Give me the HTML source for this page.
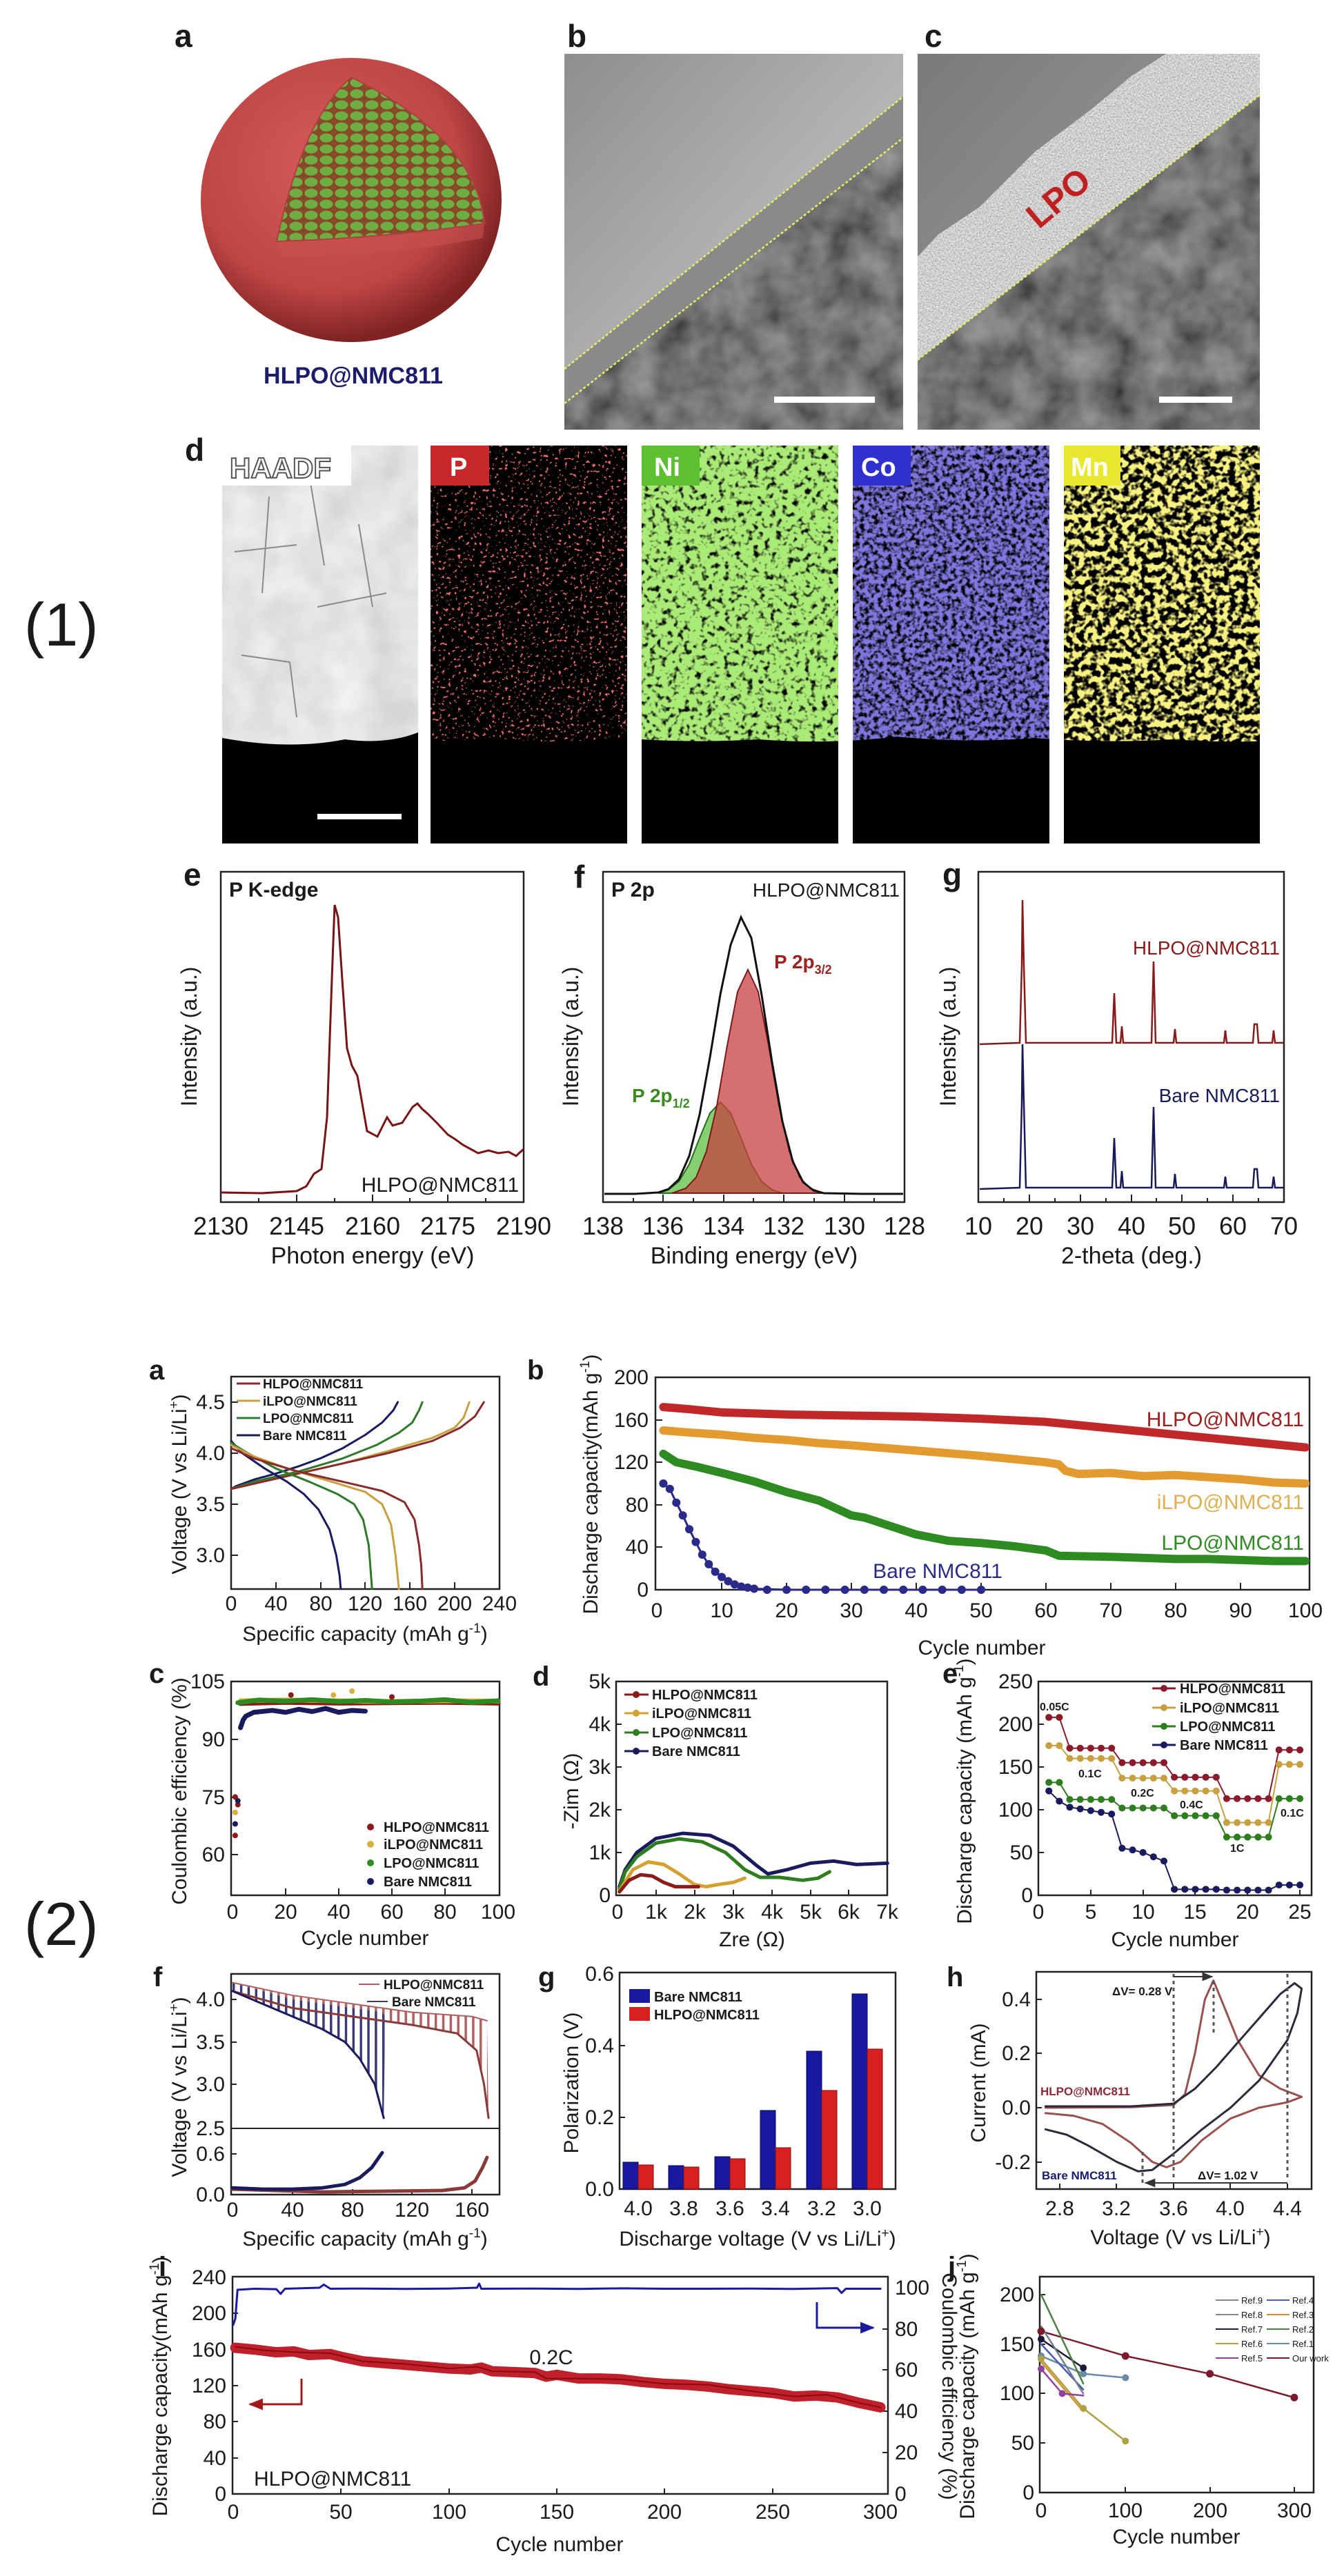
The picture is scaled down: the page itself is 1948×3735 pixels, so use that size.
<!DOCTYPE html>
<html><head><meta charset="utf-8">
<style>
html,body{margin:0;padding:0;background:#fff}
svg{display:block}
text{font-family:"Liberation Sans",Arial,sans-serif;fill:#1a1a1a}
.b{font-weight:bold}
.ns{vector-effect:non-scaling-stroke;fill:none;stroke-linejoin:round;stroke-linecap:round}
.fr{fill:none;stroke:#222;stroke-width:2.5}
.tk{stroke:#222;stroke-width:2;fill:none}
</style></head>
<body>
<svg width="1948" height="3735" viewBox="0 0 1948 3735" xmlns="http://www.w3.org/2000/svg">
<defs>
<radialGradient id="sph" cx="0.42" cy="0.38" r="0.62">
<stop offset="0" stop-color="#d65a5a"/><stop offset="0.7" stop-color="#c04646"/><stop offset="1" stop-color="#7e2222"/></radialGradient>
<pattern id="cells" width="22" height="16" patternUnits="userSpaceOnUse">
<rect width="22" height="16" fill="#8a4a2a"/><ellipse cx="11" cy="8" rx="9.5" ry="6.5" fill="#6fae45"/></pattern>
<linearGradient id="tb" x1="0" y1="0" x2="1" y2="1"><stop offset="0" stop-color="#8e8e8e"/><stop offset="1" stop-color="#d4d4d4"/></linearGradient>
<linearGradient id="tc" x1="0" y1="0" x2="1" y2="1"><stop offset="0" stop-color="#7a7a7a"/><stop offset="1" stop-color="#a8a8a8"/></linearGradient>
<filter id="dark" x="0" y="0" width="1" height="1"><feTurbulence type="fractalNoise" baseFrequency="0.02" numOctaves="3" seed="4"/><feColorMatrix type="matrix" values="0.35 0 0 0 0.0  0.35 0 0 0 0.0  0.35 0 0 0 0.0  0 0 0 0 1"/></filter>
<filter id="grain" x="0" y="0" width="1" height="1"><feTurbulence type="fractalNoise" baseFrequency="0.45" numOctaves="2" seed="7"/><feColorMatrix type="matrix" values="0.8 0 0 0 0.22  0.8 0 0 0 0.22  0.8 0 0 0 0.22  0 0 0 0 1"/></filter>
<filter id="haadf" x="0" y="0" width="1" height="1"><feTurbulence type="fractalNoise" baseFrequency="0.015" numOctaves="3" seed="9"/><feColorMatrix type="matrix" values="0.35 0 0 0 0.6  0.35 0 0 0 0.6  0.35 0 0 0 0.6  0 0 0 0 1"/></filter>
<filter id="fP" x="0" y="0" width="1" height="1"><feTurbulence type="fractalNoise" baseFrequency="0.22" numOctaves="2" seed="2"/><feColorMatrix type="matrix" values="0 0 0 0 0.9  0 0 0 0 0.15  0 0 0 0 0.15  10 0 0 0 -6.3"/></filter>
<filter id="fNi" x="0" y="0" width="1" height="1"><feTurbulence type="fractalNoise" baseFrequency="0.12" numOctaves="2" seed="5"/><feColorMatrix type="matrix" values="0 0 0 0 0.4  0 0 0 0 0.82  0 0 0 0 0.18  4 0 0 0 -0.9"/></filter>
<filter id="fCo" x="0" y="0" width="1" height="1"><feTurbulence type="fractalNoise" baseFrequency="0.15" numOctaves="2" seed="8"/><feColorMatrix type="matrix" values="0 0 0 0 0.22  0 0 0 0 0.18  0 0 0 0 0.72  3.5 0 0 0 -1.0"/></filter>
<filter id="fMn" x="0" y="0" width="1" height="1"><feTurbulence type="fractalNoise" baseFrequency="0.11" numOctaves="2" seed="11"/><feColorMatrix type="matrix" values="0 0 0 0 0.92  0 0 0 0 0.88  0 0 0 0 0.22  6 0 0 0 -2.5"/></filter>
<pattern id="hatchB" width="5" height="10" patternUnits="userSpaceOnUse"><rect width="5" height="10" fill="#fff"/><rect width="1.6" height="10" fill="#3a3a7a"/></pattern>
<pattern id="hatchR" width="5" height="10" patternUnits="userSpaceOnUse"><rect width="5" height="10" fill="#fff"/><rect width="1.6" height="10" fill="#b06060"/></pattern>
<marker id="ar" viewBox="0 0 10 10" refX="9" refY="5" markerWidth="8" markerHeight="8" orient="auto"><path d="M0 1L10 5L0 9z" fill="#333"/></marker>
<marker id="arR" viewBox="0 0 10 10" refX="9" refY="5" markerWidth="7" markerHeight="7" orient="auto"><path d="M0 1L10 5L0 9z" fill="#a01818"/></marker>
<marker id="arB" viewBox="0 0 10 10" refX="9" refY="5" markerWidth="7" markerHeight="7" orient="auto"><path d="M0 1L10 5L0 9z" fill="#1a1aa0"/></marker>
<clipPath id="cbd"><polygon points="818,585 1309,200 1309,623 818,623"/></clipPath>
<clipPath id="ccb"><polygon points="1330,372 1360,340 1420,300 1500,220 1580,160 1640,110 1690,78 1826,78 1826,138 1330,522"/></clipPath>
<clipPath id="ccd"><polygon points="1330,522 1826,138 1826,623 1330,623"/></clipPath>
<clipPath id="ch"><path d="M322 646H606V1062Q560 1080 500 1072Q420 1088 322 1070Z"/></clipPath>
<clipPath id="cm"><path d="M0 646H1948V1068Q1800 1080 1700 1072Q1600 1078 1500 1070Q1400 1078 1300 1068Q1200 1080 1100 1072Q1000 1078 900 1070Q800 1080 700 1070Q650 1078 600 1070V646Z"/></clipPath>
</defs>

<!-- ================= SECTION (1) ================= -->
<text x="35" y="936" font-size="88">(1)</text>
<text x="253" y="68" font-size="46" class="b">a</text>
<text x="822" y="68" font-size="46" class="b">b</text>
<text x="1340" y="68" font-size="46" class="b">c</text>

<ellipse cx="509" cy="290" rx="218" ry="206" fill="url(#sph)"/>
<path d="M401 350 Q560 345 702 324 L700 345 Q560 372 410 372Z" fill="#c85050" opacity="0.6"/>
<path d="M509 112 Q440 170 401 350 Q560 345 702 324 Q690 200 509 112Z" fill="url(#cells)" stroke="#b04040" stroke-width="2"/>
<text x="512" y="556" font-size="34" class="b" text-anchor="middle" style="fill:#1c1c6e">HLPO@NMC811</text>

<!-- TEM b -->
<rect x="818" y="78" width="491" height="545" fill="url(#tb)"/>
<polygon points="818,535 1309,140 1309,623 818,623" fill="#8a8a8a"/>
<rect x="818" y="78" width="491" height="545" filter="url(#dark)" clip-path="url(#cbd)"/>
<line x1="818" y1="535" x2="1309" y2="140" stroke="#e8f060" stroke-width="2.5" stroke-dasharray="4 3"/>
<line x1="818" y1="585" x2="1309" y2="200" stroke="#e8f060" stroke-width="2.5" stroke-dasharray="4 3"/>
<rect x="1122" y="575" width="146" height="9" fill="#fff"/>

<!-- TEM c -->
<rect x="1330" y="78" width="496" height="545" fill="url(#tc)"/>
<rect x="1330" y="78" width="496" height="545" filter="url(#grain)" clip-path="url(#ccb)"/>
<rect x="1330" y="78" width="496" height="545" filter="url(#dark)" clip-path="url(#ccd)"/>
<line x1="1330" y1="522" x2="1826" y2="138" stroke="#e8f060" stroke-width="2.5" stroke-dasharray="4 3"/>
<text x="1545" y="300" font-size="50" class="b" transform="rotate(-40 1545 300)" text-anchor="middle" style="fill:#c02020">LPO</text>
<rect x="1680" y="575" width="106" height="9" fill="#fff"/>

<!-- d maps -->
<text x="268" y="668" font-size="46" class="b">d</text>
<rect x="322" y="646" width="284" height="577" fill="#000"/>
<rect x="322" y="646" width="284" height="577" filter="url(#haadf)" clip-path="url(#ch)"/>
<path d="M390 720 L380 860 M450 700 L470 820 M520 760 L540 880 M340 800 L430 790 M460 880 L560 860 M420 960 L430 1040 M350 950 L420 960" stroke="#8a8a8a" stroke-width="2" fill="none"/>
<rect x="322" y="646" width="187" height="58" fill="#fff"/>
<text x="333" y="693" font-size="42" class="b" style="fill:#fff;stroke:#555;stroke-width:2">HAADF</text>
<rect x="460" y="1180" width="122" height="8" fill="#fff"/>

<rect x="624" y="646" width="285" height="577" fill="#000"/>
<rect x="624" y="646" width="285" height="577" filter="url(#fP)" clip-path="url(#cm)"/>
<rect x="624" y="646" width="85" height="58" fill="#c8282a"/>
<text x="652" y="690" font-size="38" class="b" style="fill:#fff">P</text>

<rect x="930" y="646" width="285" height="577" fill="#000"/>
<rect x="930" y="646" width="285" height="577" filter="url(#fNi)" clip-path="url(#cm)"/>
<rect x="930" y="646" width="84" height="58" fill="#5cc030"/>
<text x="948" y="690" font-size="38" class="b" style="fill:#fff">Ni</text>

<rect x="1236" y="646" width="285" height="577" fill="#000"/>
<rect x="1236" y="646" width="285" height="577" filter="url(#fCo)" clip-path="url(#cm)"/>
<rect x="1236" y="646" width="84" height="58" fill="#3030d0"/>
<text x="1248" y="690" font-size="38" class="b" style="fill:#fff">Co</text>

<rect x="1542" y="646" width="284" height="577" fill="#000"/>
<rect x="1542" y="646" width="284" height="577" filter="url(#fMn)" clip-path="url(#cm)"/>
<rect x="1542" y="646" width="82" height="58" fill="#e8e830"/>
<text x="1552" y="690" font-size="38" class="b" style="fill:#fff">Mn</text>

<!-- e -->
<text x="266" y="1284" font-size="46" class="b">e</text>
<rect class="fr" x="320" y="1264" width="439" height="479"/>
<path class="tk" d="M375 1743v-6M430 1743v-11M485 1743v-6M540 1743v-11M594 1743v-6M649 1743v-11M704 1743v-6"/>
<polyline fill="none" stroke="#7a1414" stroke-width="3" points="320,1729 380,1730 430,1727 444,1720 455,1702 466,1695 474,1620 481,1420 485,1312 490,1330 496,1420 503,1520 510,1545 518,1560 525,1600 532,1640 547,1648 554,1634 561,1620 569,1632 583,1628 598,1605 605,1600 612,1608 620,1615 635,1630 649,1645 660,1652 671,1660 693,1672 708,1668 722,1672 737,1670 748,1676 759,1666"/>
<text x="332" y="1300" font-size="30" class="b">P K-edge</text>
<text x="752" y="1728" font-size="30" text-anchor="end">HLPO@NMC811</text>
<g font-size="36" text-anchor="middle"><text x="320" y="1790">2130</text><text x="430" y="1790">2145</text><text x="540" y="1790">2160</text><text x="649" y="1790">2175</text><text x="759" y="1790">2190</text></g>
<text x="540" y="1832" font-size="34" text-anchor="middle">Photon energy (eV)</text>
<text transform="translate(285 1503) rotate(-90)" font-size="32" text-anchor="middle">Intensity (a.u.)</text>

<!-- f -->
<text x="832" y="1287" font-size="46" class="b">f</text>
<rect class="fr" x="874" y="1264" width="437" height="479"/>
<path class="tk" d="M918 1743v-6M961 1743v-11M1005 1743v-6M1049 1743v-11M1092 1743v-6M1136 1743v-11M1180 1743v-6M1224 1743v-11M1267 1743v-6"/>
<polygon fill="#5cc040" fill-opacity="0.75" stroke="#2a6a20" stroke-width="2" points="954,1730 969,1725 984,1713 999,1688 1014,1650 1029,1614 1044,1598 1059,1614 1074,1650 1089,1688 1104,1713 1119,1725 1134,1730"/>
<polygon fill="#c84040" fill-opacity="0.75" stroke="#7a1a1a" stroke-width="2" points="974,1730 994,1723 1009,1707 1024,1669 1039,1603 1054,1516 1069,1438 1084,1406 1099,1438 1114,1516 1129,1603 1144,1669 1159,1707 1174,1723 1194,1730"/>
<polyline fill="none" stroke="#111" stroke-width="3" points="876,1731 920,1731 954,1729 969,1724 984,1710 999,1676 1014,1616 1029,1533 1044,1442 1059,1370 1074,1330 1089,1360 1104,1443 1119,1540 1134,1626 1149,1684 1164,1714 1179,1726 1194,1730 1250,1731 1309,1731"/>
<text x="886" y="1300" font-size="30" class="b">P 2p</text>
<text x="1304" y="1300" font-size="28" text-anchor="end">HLPO@NMC811</text>
<text x="1122" y="1404" font-size="28" class="b" style="fill:#a02020">P 2p<tspan font-size="18" dy="8">3/2</tspan></text>
<text x="916" y="1598" font-size="28" class="b" style="fill:#3a8a20">P 2p<tspan font-size="18" dy="8">1/2</tspan></text>
<g font-size="36" text-anchor="middle"><text x="874" y="1790">138</text><text x="961" y="1790">136</text><text x="1049" y="1790">134</text><text x="1136" y="1790">132</text><text x="1224" y="1790">130</text><text x="1311" y="1790">128</text></g>
<text x="1093" y="1832" font-size="34" text-anchor="middle">Binding energy (eV)</text>
<text transform="translate(838 1503) rotate(-90)" font-size="32" text-anchor="middle">Intensity (a.u.)</text>

<!-- g -->
<text x="1366" y="1284" font-size="46" class="b">g</text>
<rect class="fr" x="1418" y="1264" width="443" height="479"/>
<path class="tk" d="M1455 1743v-6M1492 1743v-11M1529 1743v-6M1566 1743v-11M1603 1743v-6M1640 1743v-11M1676 1743v-6M1713 1743v-11M1750 1743v-6M1787 1743v-11M1824 1743v-6"/>
<polyline fill="none" stroke="#8a1a1a" stroke-width="2.5" points="1420,1514 1478,1512 1481,1400 1482,1305 1484,1400 1487,1512 1612,1512 1615,1440 1618,1512 1624,1512 1626,1488 1628,1512 1669,1512 1672,1394 1675,1512 1701,1512 1703,1492 1705,1512 1774,1512 1776,1494 1778,1512 1816,1512 1818,1485 1822,1485 1824,1512 1844,1512 1846,1494 1848,1512 1860,1512"/>
<polyline fill="none" stroke="#1a1a5a" stroke-width="2.5" points="1420,1724 1478,1722 1481,1600 1482,1514 1484,1600 1487,1722 1612,1722 1615,1650 1618,1722 1624,1722 1626,1698 1628,1722 1669,1722 1672,1605 1675,1722 1701,1722 1703,1702 1705,1722 1774,1722 1776,1706 1778,1722 1816,1722 1818,1695 1822,1695 1824,1722 1844,1722 1846,1706 1848,1722 1860,1722"/>
<text x="1855" y="1384" font-size="28" text-anchor="end" style="fill:#8a1a1a">HLPO@NMC811</text>
<text x="1855" y="1598" font-size="28" text-anchor="end" style="fill:#1a1a5a">Bare NMC811</text>
<g font-size="36" text-anchor="middle"><text x="1418" y="1790">10</text><text x="1492" y="1790">20</text><text x="1566" y="1790">30</text><text x="1640" y="1790">40</text><text x="1713" y="1790">50</text><text x="1787" y="1790">60</text><text x="1861" y="1790">70</text></g>
<text x="1640" y="1832" font-size="34" text-anchor="middle">2-theta (deg.)</text>
<text transform="translate(1385 1503) rotate(-90)" font-size="32" text-anchor="middle">Intensity (a.u.)</text>

<!-- ================= SECTION (2) ================= -->
<text x="35" y="2820" font-size="88">(2)</text>

<!-- (2)a -->
<text x="216" y="2000" font-size="40" class="b">a</text>
<rect class="fr" x="335" y="1996" width="389" height="308"/>
<path class="tk" d="M335 2033h10M335 2107h10M335 2181h10M335 2255h10M400 2304v-10M465 2304v-10M529 2304v-10M594 2304v-10M659 2304v-10"/>
<g transform="matrix(1.621 0 0 -148 335 2699)" stroke-width="3">
<polyline class="ns" stroke="#1a1a5e" points="0,3.65 5,3.68 20,3.74 40,3.8 60,3.87 80,3.95 100,4.05 120,4.18 135,4.3 145,4.42 149,4.5"/>
<polyline class="ns" stroke="#2f7a2a" points="0,3.65 20,3.72 60,3.82 100,3.95 130,4.08 150,4.2 162,4.3 168,4.42 171,4.5"/>
<polyline class="ns" stroke="#c8a040" points="0,3.65 20,3.7 60,3.8 100,3.9 140,4.02 180,4.15 200,4.25 208,4.35 213,4.5"/>
<polyline class="ns" stroke="#8b2a2a" points="0,3.65 20,3.7 60,3.8 100,3.9 140,4.0 180,4.12 205,4.25 218,4.36 226,4.5"/>
<polyline class="ns" stroke="#1a1a5e" points="0,4.12 10,4.0 30,3.85 50,3.72 65,3.6 78,3.45 88,3.25 94,3.0 97,2.8 98,2.67"/>
<polyline class="ns" stroke="#2f7a2a" points="0,4.1 15,4.0 40,3.85 70,3.72 95,3.6 110,3.5 118,3.35 123,3.1 126,2.67"/>
<polyline class="ns" stroke="#c8a040" points="0,4.08 20,3.97 50,3.85 90,3.72 120,3.62 135,3.5 143,3.3 147,3.0 150,2.67"/>
<polyline class="ns" stroke="#8b2a2a" points="0,4.05 20,3.95 60,3.82 100,3.72 135,3.63 155,3.52 164,3.35 168,3.1 170,2.9 171,2.67"/>
</g>
<g font-size="19" class="b">
<line x1="343" y1="2006" x2="377" y2="2006" stroke="#8b2a2a" stroke-width="3"/><text x="381" y="2013">HLPO@NMC811</text>
<line x1="343" y1="2031" x2="377" y2="2031" stroke="#c8a040" stroke-width="3"/><text x="381" y="2038">iLPO@NMC811</text>
<line x1="343" y1="2056" x2="377" y2="2056" stroke="#2f7a2a" stroke-width="3"/><text x="381" y="2063">LPO@NMC811</text>
<line x1="343" y1="2081" x2="377" y2="2081" stroke="#1a1a5e" stroke-width="3"/><text x="381" y="2088">Bare NMC811</text>
</g>
<g font-size="30" text-anchor="end"><text x="326" y="2043">4.5</text><text x="326" y="2117">4.0</text><text x="326" y="2191">3.5</text><text x="326" y="2265">3.0</text></g>
<g font-size="30" text-anchor="middle"><text x="335" y="2335">0</text><text x="400" y="2335">40</text><text x="465" y="2335">80</text><text x="529" y="2335">120</text><text x="594" y="2335">160</text><text x="659" y="2335">200</text><text x="724" y="2335">240</text></g>
<text x="529" y="2379" font-size="30" text-anchor="middle">Specific capacity (mAh g<tspan font-size="19" dy="-12">-1</tspan><tspan dy="12">)</tspan></text>
<text transform="translate(270 2152) rotate(-90)" font-size="30" text-anchor="middle">Voltage (V vs Li/Li<tspan font-size="19" dy="-12">+</tspan><tspan dy="12">)</tspan></text>

<!-- (2)b -->
<text x="764" y="2000" font-size="40" class="b">b</text>
<rect class="fr" x="950" y="1997" width="948" height="308"/>
<path class="tk" d="M950 2243h10M950 2182h10M950 2120h10M950 2059h10M1046 2305v-10M1140 2305v-10M1234 2305v-10M1328 2305v-10M1422 2305v-10M1516 2305v-10M1610 2305v-10M1704 2305v-10M1798 2305v-10"/>
<g transform="matrix(9.40 0 0 -1.54 952 2305)">
<polyline class="ns" stroke="#c0282a" stroke-width="12" points="1,172 5,170 10,167 20,165 30,164 40,163 50,161 60,158 70,152 80,146 90,140 100,134"/>
<polyline class="ns" stroke="#e39a2e" stroke-width="12" points="1,150 5,148 10,146 15,143 20,141 25,138 30,136 40,131 50,126 55,123 60,120 62,118 63,112 65,109 70,110 75,107 80,108 85,106 90,104 95,101 100,100"/>
<polyline class="ns" stroke="#2e8b22" stroke-width="12" points="1,128 3,120 6,116 10,110 15,102 20,92 25,84 30,70 32,68 35,62 40,52 45,46 50,44 55,41 60,37 62,32 70,31 80,29 85,29 90,28 95,27 100,27"/>
<polyline class="ns" stroke="#2a2a8a" stroke-width="3" points="1,100 2,95 3,82 4,70 5,57 6,45 7,33 8,24 9,17 10,12 11,8 12,5 13,3 15,1 20,0 50,0"/>
<path class="ns" stroke="#2a2a8a" stroke-width="12" d="M1 100h0.01M2 95h0.01M3 82h0.01M4 70h0.01M5 57h0.01M6 45h0.01M7 33h0.01M8 24h0.01M9 17h0.01M10 12h0.01M11 8h0.01M12 5h0.01M13 3h0.01M14 2h0.01M15 1h0.01M17 0h0.01M20 0h0.01M23 0h0.01M26 0h0.01M29 0h0.01M32 0h0.01M35 0h0.01M38 0h0.01M41 0h0.01M44 0h0.01M47 0h0.01M50 0h0.01"/>
</g>
<g font-size="30" text-anchor="end"><text x="940" y="2315">0</text><text x="940" y="2253">40</text><text x="940" y="2192">80</text><text x="940" y="2130">120</text><text x="940" y="2069">160</text><text x="940" y="2007">200</text></g>
<g font-size="30" text-anchor="middle"><text x="952" y="2345">0</text><text x="1046" y="2345">10</text><text x="1140" y="2345">20</text><text x="1234" y="2345">30</text><text x="1328" y="2345">40</text><text x="1422" y="2345">50</text><text x="1516" y="2345">60</text><text x="1610" y="2345">70</text><text x="1704" y="2345">80</text><text x="1798" y="2345">90</text><text x="1892" y="2345">100</text></g>
<text x="1423" y="2399" font-size="30" text-anchor="middle">Cycle number</text>
<text transform="translate(866 2152) rotate(-90)" font-size="30" text-anchor="middle">Discharge capacity(mAh g<tspan font-size="19" dy="-12">-1</tspan><tspan dy="12">)</tspan></text>
<text x="1890" y="2068" font-size="30" text-anchor="end" style="fill:#a02020">HLPO@NMC811</text>
<text x="1890" y="2188" font-size="30" text-anchor="end" style="fill:#e0b050">iLPO@NMC811</text>
<text x="1890" y="2247" font-size="30" text-anchor="end" style="fill:#2e8b22">LPO@NMC811</text>
<text x="1359" y="2288" font-size="30" text-anchor="middle" style="fill:#2a2a8a">Bare NMC811</text>

<!-- (2)c -->
<text x="216" y="2440" font-size="40" class="b">c</text>
<rect class="fr" x="335" y="2438" width="389" height="310"/>
<path class="tk" d="M335 2522h10M335 2606h10M335 2689h10M414 2748v-10M491 2748v-10M568 2748v-10M645 2748v-10"/>
<g transform="matrix(3.85 0 0 -5.58 337 3024)">
<polyline class="ns" stroke="#8b1a1a" stroke-width="7" points="3,99.3 20,99.6 40,99.4 60,99.5 80,99.6 100,99.4"/>
<polyline class="ns" stroke="#d8b040" stroke-width="7" points="3,100 20,100.2 40,100 60,99.8 80,100 100,99.9"/>
<polyline class="ns" stroke="#2e8b22" stroke-width="7" points="2,99.5 10,100.2 20,99.9 30,100.3 40,99.8 50,100.1 60,99.7 70,99.9 80,100.3 90,99.6 100,100"/>
<polyline class="ns" stroke="#1a1a5e" stroke-width="7" points="3,93 4,95 5,96 8,97 15,97.5 20,97 25,97.8 30,97.2 35,98 40,97 45,97.5 50,97.3"/>
<path class="ns" stroke="#8b1a1a" stroke-width="8" d="M1 75h0.01M2 73h0.01M1 65h0.01M22 101.5h0.01M60 101h0.01"/>
<path class="ns" stroke="#d8b040" stroke-width="8" d="M1 71h0.01M45 102.5h0.01M38 101.5h0.01"/>
<path class="ns" stroke="#1a1a5e" stroke-width="8" d="M2 74h0.01M1 68h0.01"/>
</g>
<g font-size="20" class="b">
<circle cx="537" cy="2649" r="5" fill="#8b1a1a"/><text x="556" y="2656">HLPO@NMC811</text>
<circle cx="537" cy="2674" r="5" fill="#d8b040"/><text x="556" y="2681">iLPO@NMC811</text>
<circle cx="537" cy="2701" r="5" fill="#2e8b22"/><text x="556" y="2708">LPO@NMC811</text>
<circle cx="537" cy="2728" r="5" fill="#1a1a5e"/><text x="556" y="2735">Bare NMC811</text>
</g>
<g font-size="30" text-anchor="end"><text x="326" y="2448">105</text><text x="326" y="2532">90</text><text x="326" y="2616">75</text><text x="326" y="2699">60</text></g>
<g font-size="30" text-anchor="middle"><text x="337" y="2782">0</text><text x="414" y="2782">20</text><text x="491" y="2782">40</text><text x="568" y="2782">60</text><text x="645" y="2782">80</text><text x="722" y="2782">100</text></g>
<text x="529" y="2820" font-size="30" text-anchor="middle">Cycle number</text>
<text transform="translate(270 2597) rotate(-90)" font-size="30" text-anchor="middle">Coulombic efficiency (%)</text>

<!-- (2)d -->
<text x="772" y="2444" font-size="40" class="b">d</text>
<rect class="fr" x="893" y="2438" width="393" height="310"/>
<path class="tk" d="M893 2686h8M893 2624h8M893 2562h8M893 2500h8M951 2748v-8M1007 2748v-8M1063 2748v-8M1119 2748v-8M1175 2748v-8M1230 2748v-8"/>
<g transform="matrix(55.9 0 0 -62 895 2748)" stroke-width="5">
<polyline class="ns" stroke="#1a1a5e" points="0.05,0.2 0.2,0.6 0.5,1.0 1.0,1.33 1.7,1.45 2.4,1.4 3.0,1.15 3.6,0.7 3.9,0.5 4.4,0.6 5.0,0.75 5.6,0.8 6.2,0.72 7.0,0.75"/>
<polyline class="ns" stroke="#2e7d1e" points="0.05,0.15 0.2,0.55 0.5,0.9 1.0,1.22 1.6,1.32 2.2,1.25 2.8,1.0 3.3,0.6 3.7,0.42 4.2,0.42 4.8,0.35 5.2,0.4 5.5,0.55"/>
<polyline class="ns" stroke="#d4a030" points="0.05,0.1 0.4,0.6 0.8,0.78 1.2,0.72 1.6,0.5 2.0,0.25 2.3,0.2 2.6,0.25 3.0,0.3 3.3,0.4"/>
<polyline class="ns" stroke="#8b1a1a" points="0.05,0.08 0.3,0.35 0.6,0.48 0.9,0.45 1.2,0.3 1.5,0.2 1.8,0.2 2.1,0.2"/>
</g>
<g font-size="20" class="b">
<line x1="905" y1="2457" x2="940" y2="2457" stroke="#8b1a1a" stroke-width="3"/><circle cx="922" cy="2457" r="5" fill="#8b1a1a"/><text x="945" y="2464">HLPO@NMC811</text>
<line x1="905" y1="2484" x2="940" y2="2484" stroke="#d4a030" stroke-width="3"/><circle cx="922" cy="2484" r="5" fill="#d4a030"/><text x="945" y="2491">iLPO@NMC811</text>
<line x1="905" y1="2512" x2="940" y2="2512" stroke="#2e7d1e" stroke-width="3"/><circle cx="922" cy="2512" r="5" fill="#2e7d1e"/><text x="945" y="2519">LPO@NMC811</text>
<line x1="905" y1="2539" x2="940" y2="2539" stroke="#1a1a5e" stroke-width="3"/><circle cx="922" cy="2539" r="5" fill="#1a1a5e"/><text x="945" y="2546">Bare NMC811</text>
</g>
<g font-size="30" text-anchor="end"><text x="885" y="2758">0</text><text x="885" y="2696">1k</text><text x="885" y="2634">2k</text><text x="885" y="2572">3k</text><text x="885" y="2510">4k</text><text x="885" y="2448">5k</text></g>
<g font-size="30" text-anchor="middle"><text x="895" y="2782">0</text><text x="951" y="2782">1k</text><text x="1007" y="2782">2k</text><text x="1063" y="2782">3k</text><text x="1119" y="2782">4k</text><text x="1175" y="2782">5k</text><text x="1230" y="2782">6k</text><text x="1286" y="2782">7k</text></g>
<text x="1090" y="2822" font-size="30" text-anchor="middle">Zre (Ω)</text>
<text transform="translate(838 2597) rotate(-90)" font-size="30" text-anchor="middle">-Zim (Ω)</text>

<!-- (2)e -->
<text x="1366" y="2440" font-size="40" class="b">e</text>
<rect class="fr" x="1505" y="2438" width="396" height="310"/>
<path class="tk" d="M1505 2686h8M1505 2624h8M1505 2562h8M1505 2500h8M1581 2748v-8M1657 2748v-8M1732 2748v-8M1808 2748v-8M1884 2748v-8"/>
<g transform="matrix(15.16 0 0 -1.24 1505 2748)">
<polyline class="ns" stroke="#8b1a2a" stroke-width="2" points="1,208 2,208 3,172 4,172 5,172 6,172 7,172 8,155 9,155 10,155 11,155 12,155 13,138 14,138 15,138 16,138 17,138 18,113 19,113 20,113 21,113 22,113 23,170 24,170 25,170"/>
<polyline class="ns" stroke="#c8a040" stroke-width="2" points="1,175 2,175 3,160 4,160 5,160 6,160 7,160 8,137 9,137 10,137 11,137 12,137 13,122 14,122 15,122 16,122 17,122 18,85 19,85 20,85 21,85 22,85 23,153 24,153 25,153"/>
<polyline class="ns" stroke="#2e7d1e" stroke-width="2" points="1,132 2,132 3,112 4,112 5,112 6,112 7,112 8,102 9,102 10,102 11,102 12,102 13,93 14,93 15,93 16,93 17,93 18,68 19,68 20,68 21,68 22,68 23,113 24,113 25,113"/>
<polyline class="ns" stroke="#1a1a5e" stroke-width="2" points="1,122 2,110 3,103 4,101 5,99 6,97 7,95 8,55 9,53 10,50 11,45 12,40 13,7 14,7 15,7 16,7 17,7 18,6 19,6 20,6 21,6 22,6 23,12 24,12 25,12"/>
<path class="ns" stroke="#8b1a2a" stroke-width="10" d="M1 208h.01M2 208h.01M3 172h.01M4 172h.01M5 172h.01M6 172h.01M7 172h.01M8 155h.01M9 155h.01M10 155h.01M11 155h.01M12 155h.01M13 138h.01M14 138h.01M15 138h.01M16 138h.01M17 138h.01M18 113h.01M19 113h.01M20 113h.01M21 113h.01M22 113h.01M23 170h.01M24 170h.01M25 170h.01"/>
<path class="ns" stroke="#c8a040" stroke-width="10" d="M1 175h.01M2 175h.01M3 160h.01M4 160h.01M5 160h.01M6 160h.01M7 160h.01M8 137h.01M9 137h.01M10 137h.01M11 137h.01M12 137h.01M13 122h.01M14 122h.01M15 122h.01M16 122h.01M17 122h.01M18 85h.01M19 85h.01M20 85h.01M21 85h.01M22 85h.01M23 153h.01M24 153h.01M25 153h.01"/>
<path class="ns" stroke="#2e7d1e" stroke-width="10" d="M1 132h.01M2 132h.01M3 112h.01M4 112h.01M5 112h.01M6 112h.01M7 112h.01M8 102h.01M9 102h.01M10 102h.01M11 102h.01M12 102h.01M13 93h.01M14 93h.01M15 93h.01M16 93h.01M17 93h.01M18 68h.01M19 68h.01M20 68h.01M21 68h.01M22 68h.01M23 113h.01M24 113h.01M25 113h.01"/>
<path class="ns" stroke="#1a1a5e" stroke-width="10" d="M1 122h.01M2 110h.01M3 103h.01M4 101h.01M5 99h.01M6 97h.01M7 95h.01M8 55h.01M9 53h.01M10 50h.01M11 45h.01M12 40h.01M13 7h.01M14 7h.01M15 7h.01M16 7h.01M17 7h.01M18 6h.01M19 6h.01M20 6h.01M21 6h.01M22 6h.01M23 12h.01M24 12h.01M25 12h.01"/>
</g>
<g font-size="20" class="b">
<line x1="1670" y1="2448" x2="1704" y2="2448" stroke="#8b1a2a" stroke-width="3"/><circle cx="1687" cy="2448" r="5" fill="#8b1a2a"/><text x="1710" y="2455">HLPO@NMC811</text>
<line x1="1670" y1="2476" x2="1704" y2="2476" stroke="#c8a040" stroke-width="3"/><circle cx="1687" cy="2476" r="5" fill="#c8a040"/><text x="1710" y="2483">iLPO@NMC811</text>
<line x1="1670" y1="2503" x2="1704" y2="2503" stroke="#2e7d1e" stroke-width="3"/><circle cx="1687" cy="2503" r="5" fill="#2e7d1e"/><text x="1710" y="2510">LPO@NMC811</text>
<line x1="1670" y1="2530" x2="1704" y2="2530" stroke="#1a1a5e" stroke-width="3"/><circle cx="1687" cy="2530" r="5" fill="#1a1a5e"/><text x="1710" y="2537">Bare NMC811</text>
</g>
<g font-size="16" class="b"><text x="1507" y="2480">0.05C</text><text x="1563" y="2577">0.1C</text><text x="1639" y="2605">0.2C</text><text x="1710" y="2622">0.4C</text><text x="1783" y="2685">1C</text><text x="1856" y="2634">0.1C</text></g>
<g font-size="30" text-anchor="end"><text x="1497" y="2758">0</text><text x="1497" y="2696">50</text><text x="1497" y="2634">100</text><text x="1497" y="2572">150</text><text x="1497" y="2510">200</text><text x="1497" y="2448">250</text></g>
<g font-size="30" text-anchor="middle"><text x="1505" y="2782">0</text><text x="1581" y="2782">5</text><text x="1657" y="2782">10</text><text x="1732" y="2782">15</text><text x="1808" y="2782">20</text><text x="1884" y="2782">25</text></g>
<text x="1703" y="2822" font-size="30" text-anchor="middle">Cycle number</text>
<text transform="translate(1408 2597) rotate(-90)" font-size="30" text-anchor="middle">Discharge capacity (mAh g<tspan font-size="19" dy="-12">-1</tspan><tspan dy="12">)</tspan></text>

<!-- (2)f -->
<text x="222" y="2880" font-size="40" class="b">f</text>
<rect class="fr" x="335" y="2862" width="389" height="320"/>
<line x1="335" y1="3086" x2="724" y2="3086" stroke="#222" stroke-width="2"/>
<path class="tk" d="M335 2899h8M335 2961h8M335 3022h8M335 3123h8M424 3182v-8M511 3182v-8M597 3182v-8M684 3182v-8"/>
<g transform="matrix(2.17 0 0 -122.7 337 3390)">
<polygon fill="url(#hatchR)" stroke="none" points="0,4.2 40,4.05 80,3.95 120,3.85 160,3.8 170,3.75 171,2.6 168,3.0 163,3.4 150,3.6 120,3.7 80,3.8 40,3.9 0,4.1"/>
<polygon fill="url(#hatchB)" stroke="none" points="0,4.2 20,4.1 40,4.0 60,3.95 80,3.9 100,3.85 102,3.8 101,2.6 95,3.0 85,3.3 75,3.5 60,3.65 40,3.8 20,3.95 0,4.1"/>
<polyline class="ns" stroke="#b06060" stroke-width="2" points="0,4.2 40,4.05 80,3.95 120,3.85 160,3.8 170,3.75"/>
<polyline class="ns" stroke="#8b3a3a" stroke-width="3" points="0,4.1 40,3.9 80,3.8 120,3.7 150,3.6 163,3.4 168,3.0 171,2.6"/>
<polyline class="ns" stroke="#1a1a5e" stroke-width="3" points="0,4.1 20,3.95 40,3.8 60,3.65 75,3.5 85,3.3 95,3.0 101,2.6"/>
</g>
<g transform="matrix(2.17 0 0 -98 337 3182)">
<polyline class="ns" stroke="#8b3a3a" stroke-width="5" points="0,0.08 60,0.04 100,0.05 140,0.06 155,0.1 162,0.2 167,0.4 170,0.55"/>
<polyline class="ns" stroke="#1a1a5e" stroke-width="5" points="0,0.1 20,0.08 40,0.08 60,0.1 75,0.15 85,0.25 93,0.4 100,0.62"/>
</g>
<g font-size="19" class="b"><line x1="520" y1="2877" x2="550" y2="2877" stroke="#b06060" stroke-width="2"/><text x="556" y="2884">HLPO@NMC811</text>
<line x1="532" y1="2902" x2="562" y2="2902" stroke="#3a3a7a" stroke-width="2"/><text x="568" y="2909">Bare NMC811</text></g>
<g font-size="30" text-anchor="end"><text x="326" y="2909">4.0</text><text x="326" y="2971">3.5</text><text x="326" y="3032">3.0</text><text x="326" y="3096">2.5</text><text x="326" y="3133">0.6</text><text x="326" y="3192">0.0</text></g>
<g font-size="30" text-anchor="middle"><text x="337" y="3214">0</text><text x="424" y="3214">40</text><text x="511" y="3214">80</text><text x="597" y="3214">120</text><text x="684" y="3214">160</text></g>
<text x="529" y="3256" font-size="30" text-anchor="middle">Specific capacity (mAh g<tspan font-size="19" dy="-12">-1</tspan><tspan dy="12">)</tspan></text>
<text transform="translate(270 3026) rotate(-90)" font-size="30" text-anchor="middle">Voltage (V vs Li/Li<tspan font-size="19" dy="-12">+</tspan><tspan dy="12">)</tspan></text>

<!-- (2)g -->
<text x="780" y="2880" font-size="40" class="b">g</text>
<rect class="fr" x="898" y="2860" width="400" height="314"/>
<path class="tk" d="M898 3070h8M898 2966h8"/>
<g fill="#1818a0" stroke="#0a0a50" stroke-width="1">
<rect x="903" y="3135" width="22" height="39"/><rect x="969" y="3140" width="22" height="34"/><rect x="1036" y="3127" width="22" height="47"/><rect x="1102" y="3060" width="22" height="114"/><rect x="1169" y="2974" width="22" height="200"/><rect x="1235" y="2891" width="22" height="283"/>
</g>
<g fill="#d82020" stroke="#801010" stroke-width="1">
<rect x="925" y="3139" width="22" height="35"/><rect x="991" y="3142" width="22" height="32"/><rect x="1058" y="3130" width="22" height="44"/><rect x="1124" y="3114" width="22" height="60"/><rect x="1191" y="3031" width="22" height="143"/><rect x="1257" y="2971" width="22" height="203"/>
</g>
<rect x="912" y="2884" width="30" height="20" fill="#1818a0"/><text x="948" y="2902" font-size="20" class="b">Bare NMC811</text>
<rect x="912" y="2910" width="30" height="20" fill="#d82020"/><text x="948" y="2928" font-size="20" class="b">HLPO@NMC811</text>
<g font-size="30" text-anchor="end"><text x="890" y="3184">0.0</text><text x="890" y="3080">0.2</text><text x="890" y="2976">0.4</text><text x="890" y="2872">0.6</text></g>
<g font-size="30" text-anchor="middle"><text x="925" y="3212">4.0</text><text x="991" y="3212">3.8</text><text x="1058" y="3212">3.6</text><text x="1124" y="3212">3.4</text><text x="1191" y="3212">3.2</text><text x="1257" y="3212">3.0</text></g>
<text x="1098" y="3256" font-size="30" text-anchor="middle">Discharge voltage (V vs Li/Li<tspan font-size="19" dy="-12">+</tspan><tspan dy="12">)</tspan></text>
<text transform="translate(838 3020) rotate(-90)" font-size="30" text-anchor="middle">Polarization (V)</text>

<!-- (2)h -->
<text x="1372" y="2880" font-size="40" class="b">h</text>
<rect class="fr" x="1502" y="2859" width="399" height="315"/>
<path class="tk" d="M1502 2899h8M1502 2977h8M1502 3056h8M1502 3135h8M1536 3174v-8M1618 3174v-8M1701 3174v-8M1783 3174v-8M1866 3174v-8"/>
<g transform="matrix(206.25 0 0 -392.5 958.5 3056)" stroke-width="3">
<polyline class="ns" stroke="#9b5050" points="2.7,0.0 3.3,0.002 3.6,0.01 3.68,0.05 3.75,0.2 3.82,0.4 3.88,0.47 3.95,0.38 4.05,0.25 4.2,0.12 4.35,0.07 4.5,0.04 4.4,0.02 4.2,0.0 4.0,-0.04 3.8,-0.12 3.65,-0.2 3.55,-0.22 3.45,-0.2 3.3,-0.13 3.1,-0.06 2.9,-0.03 2.7,-0.02"/>
<polyline class="ns" stroke="#2a2a3a" points="2.7,0.005 3.3,0.005 3.6,0.015 3.75,0.07 3.9,0.15 4.05,0.24 4.2,0.33 4.35,0.42 4.45,0.46 4.5,0.44 4.47,0.35 4.4,0.25 4.2,0.1 4.0,0.0 3.8,-0.08 3.6,-0.17 3.45,-0.23 3.35,-0.235 3.2,-0.2 3.0,-0.14 2.85,-0.1 2.7,-0.08"/>
</g>
<path d="M1701 2862V3160M1866 2862V3160M1759 2872V2950M1656 3120V3165" stroke="#555" stroke-width="3" stroke-dasharray="5 5" fill="none"/>
<line x1="1701" y1="2866" x2="1757" y2="2866" stroke="#333" stroke-width="2" marker-end="url(#ar)"/>
<line x1="1866" y1="3165" x2="1660" y2="3165" stroke="#333" stroke-width="2" marker-end="url(#ar)"/>
<text x="1612" y="2893" font-size="17" class="b">ΔV= 0.28 V</text>
<text x="1736" y="3160" font-size="17" class="b">ΔV= 1.02 V</text>
<text x="1508" y="3038" font-size="17" class="b" style="fill:#8b2a3a">HLPO@NMC811</text>
<text x="1510" y="3160" font-size="17" class="b" style="fill:#1a1a6e">Bare NMC811</text>
<g font-size="30" text-anchor="end"><text x="1494" y="2909">0.4</text><text x="1494" y="2987">0.2</text><text x="1494" y="3066">0.0</text><text x="1494" y="3145">-0.2</text></g>
<g font-size="30" text-anchor="middle"><text x="1536" y="3212">2.8</text><text x="1618" y="3212">3.2</text><text x="1701" y="3212">3.6</text><text x="1783" y="3212">4.0</text><text x="1866" y="3212">4.4</text></g>
<text x="1711" y="3254" font-size="30" text-anchor="middle">Voltage (V vs Li/Li<tspan font-size="19" dy="-12">+</tspan><tspan dy="12">)</tspan></text>
<text transform="translate(1428 3020) rotate(-90)" font-size="30" text-anchor="middle">Current (mA)</text>

<!-- (2)i -->
<text x="230" y="3300" font-size="40" class="b">i</text>
<rect class="fr" x="337" y="3301" width="950" height="315"/>
<path class="tk" d="M337 3564h8M337 3511h8M337 3459h8M337 3407h8M337 3354h8M1287 3556h-8M1287 3496h-8M1287 3436h-8M1287 3377h-8M494 3616v-8M651 3616v-8M807 3616v-8M963 3616v-8M1120 3616v-8"/>
<g transform="matrix(3.127 0 0 -1.308 338 3616)">
<polyline class="ns" stroke="#c0202a" stroke-width="15" points="1,162 10,160 20,157 28,158 35,154 45,155 50,152 60,147 70,145 80,143 90,141 100,139 110,138 115,140 120,136 130,135 140,134 145,130 150,132 160,128 170,128 180,127 190,124 200,122 210,121 220,119 230,116 240,114 250,112 260,108 270,109 280,107 290,101 300,96"/>
<polyline class="ns" stroke="#8a0a10" stroke-width="2" points="1,163 15,159 30,157 45,156 60,147 80,144 100,139 113,141 120,136 140,135 145,128 160,128 180,127 200,122 220,121 240,114 260,108 275,110 290,101 300,96"/>
</g>
<g transform="matrix(3.127 0 0 -2.99 338 3616)">
<polyline class="ns" stroke="#1a1aa0" stroke-width="3" points="0,82 1,85 2,99 10,99.5 20,99.3 22,97 24,99.5 40,100 42,101.5 45,99.5 60,99.6 80,99.4 100,99.6 113,100 114,102 115,99.5 140,99.6 160,99.4 180,99.7 200,99.5 220,99.5 240,99.6 260,99.4 280,99.8 282,97.5 284,99.5 300,99.5"/>
</g>
<path d="M437 3449V3486H362" stroke="#a01818" stroke-width="3" fill="none" marker-end="url(#arR)"/>
<path d="M1184 3338V3375H1266" stroke="#1a1aa0" stroke-width="3" fill="none" marker-end="url(#arB)"/>
<text x="799" y="3428" font-size="30" text-anchor="middle">0.2C</text>
<text x="368" y="3604" font-size="30">HLPO@NMC811</text>
<g font-size="30" text-anchor="end"><text x="328" y="3626">0</text><text x="328" y="3574">40</text><text x="328" y="3521">80</text><text x="328" y="3469">120</text><text x="328" y="3417">160</text><text x="328" y="3364">200</text><text x="328" y="3312">240</text></g>
<g font-size="30"><text x="1297" y="3626">0</text><text x="1297" y="3566">20</text><text x="1297" y="3506">40</text><text x="1297" y="3446">60</text><text x="1297" y="3387">80</text><text x="1297" y="3327">100</text></g>
<g font-size="30" text-anchor="middle"><text x="338" y="3652">0</text><text x="494" y="3652">50</text><text x="651" y="3652">100</text><text x="807" y="3652">150</text><text x="963" y="3652">200</text><text x="1120" y="3652">250</text><text x="1276" y="3652">300</text></g>
<text x="811" y="3699" font-size="30" text-anchor="middle">Cycle number</text>
<text transform="translate(242 3460) rotate(-90)" font-size="30" text-anchor="middle">Discharge capacity(mAh g<tspan font-size="19" dy="-12">-1</tspan><tspan dy="12">)</tspan></text>
<text transform="translate(1366 3460) rotate(90)" font-size="30" text-anchor="middle">Coulombic efficiency (%)</text>

<!-- (2)j -->
<text x="1374" y="3300" font-size="40" class="b">j</text>
<rect class="fr" x="1507" y="3301" width="397" height="313"/>
<path class="tk" d="M1507 3542h8M1507 3470h8M1507 3399h8M1507 3327h8M1631 3614v-8M1754 3614v-8M1876 3614v-8"/>
<g transform="matrix(1.223 0 0 -1.435 1509 3614)" stroke-width="2.5">
<polyline class="ns" stroke="#7a1a2a" points="0,163 100,138 200,120 300,96"/>
<polyline class="ns" stroke="#6a8aaa" points="0,138 50,120 100,116"/>
<polyline class="ns" stroke="#1a1a3a" points="0,155 50,126"/>
<polyline class="ns" stroke="#b0a040" points="0,135 50,85 100,52"/>
<polyline class="ns" stroke="#d09030" points="0,132 50,82"/>
<polyline class="ns" stroke="#9040a0" points="0,125 25,100 50,98"/>
<polyline class="ns" stroke="#4a5ab0" points="0,150 50,104"/>
<polyline class="ns" stroke="#4a8040" points="0,200 50,110"/>
<polyline class="ns" stroke="#708090" points="0,168 50,100"/>
<path class="ns" stroke="#7a1a2a" stroke-width="11" d="M0 163h.01M100 138h.01M200 120h.01M300 96h.01"/>
<path class="ns" stroke="#6a8aaa" stroke-width="10" d="M0 138h.01M50 120h.01M100 116h.01"/>
<path class="ns" stroke="#1a1a3a" stroke-width="10" d="M0 155h.01M50 126h.01"/>
<path class="ns" stroke="#b0a040" stroke-width="10" d="M0 135h.01M50 85h.01M100 52h.01"/>
<path class="ns" stroke="#9040a0" stroke-width="10" d="M0 125h.01M25 100h.01"/>
</g>
<g font-size="13">
<line x1="1762" y1="3335" x2="1795" y2="3335" stroke="#888" stroke-width="2"/><text x="1799" y="3340">Ref.9</text>
<line x1="1836" y1="3335" x2="1869" y2="3335" stroke="#4a5ab0" stroke-width="2"/><text x="1873" y="3340">Ref.4</text>
<line x1="1762" y1="3356" x2="1795" y2="3356" stroke="#888" stroke-width="2"/><text x="1799" y="3361">Ref.8</text>
<line x1="1836" y1="3356" x2="1869" y2="3356" stroke="#d09030" stroke-width="2"/><text x="1873" y="3361">Ref.3</text>
<line x1="1762" y1="3377" x2="1795" y2="3377" stroke="#1a1a3a" stroke-width="2"/><text x="1799" y="3382">Ref.7</text>
<line x1="1836" y1="3377" x2="1869" y2="3377" stroke="#4a8040" stroke-width="2"/><text x="1873" y="3382">Ref.2</text>
<line x1="1762" y1="3398" x2="1795" y2="3398" stroke="#b0a040" stroke-width="2"/><text x="1799" y="3403">Ref.6</text>
<line x1="1836" y1="3398" x2="1869" y2="3398" stroke="#6a8aaa" stroke-width="2"/><text x="1873" y="3403">Ref.1</text>
<line x1="1762" y1="3419" x2="1795" y2="3419" stroke="#9040a0" stroke-width="2"/><text x="1799" y="3424">Ref.5</text>
<line x1="1836" y1="3419" x2="1869" y2="3419" stroke="#7a1a2a" stroke-width="2"/><text x="1873" y="3424">Our work</text>
</g>
<g font-size="30" text-anchor="end"><text x="1499" y="3624">0</text><text x="1499" y="3552">50</text><text x="1499" y="3480">100</text><text x="1499" y="3409">150</text><text x="1499" y="3337">200</text></g>
<g font-size="30" text-anchor="middle"><text x="1509" y="3650">0</text><text x="1631" y="3650">100</text><text x="1754" y="3650">200</text><text x="1876" y="3650">300</text></g>
<text x="1705" y="3688" font-size="30" text-anchor="middle">Cycle number</text>
<text transform="translate(1412 3460) rotate(-90)" font-size="30" text-anchor="middle">Discharge capacity (mAh g<tspan font-size="19" dy="-12">-1</tspan><tspan dy="12">)</tspan></text>
</svg>
</body></html>
